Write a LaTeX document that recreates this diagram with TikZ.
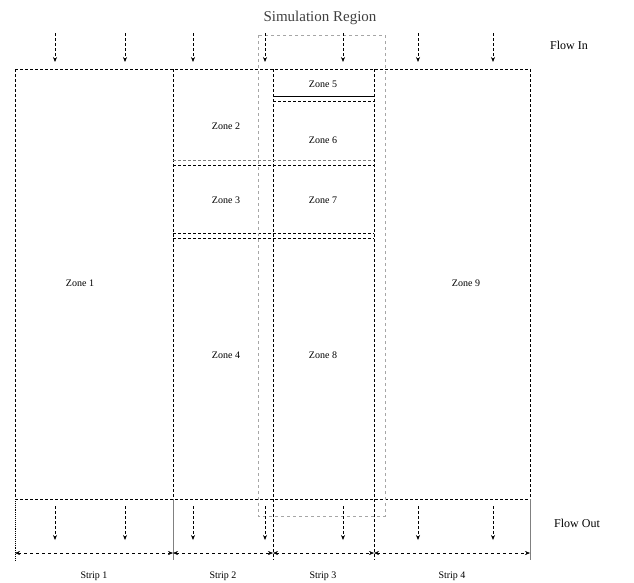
\documentclass[tikz,border=0pt]{standalone}
\usepackage{fontspec}
\setmainfont{Liberation Serif}
\usetikzlibrary{arrows.meta}
\tikzset{
  part/.style={densely dashed, line width=1pt},
  flow/.style={densely dashed, line width=0.8pt, -{Stealth[length=5pt,width=4pt]}},
  simreg/.style={dashed, gray!70, line width=0.5pt},
  span/.style={dashed, line width=0.4pt, {Stealth[length=5pt,width=4pt]}-{Stealth[length=5pt,width=4pt]}},
  zonelbl/.style={font=\fontsize{10}{11}\selectfont}
}
\begin{document}
\begin{tikzpicture}[x=1pt,y=-1pt]
    \useasboundingbox (0,0) rectangle (634,582);
    % strip borders
    \coordinate (T1) at (15,69);  \coordinate (B1) at (15,499);
    \coordinate (T2) at (173,69); \coordinate (B2) at (173,499);
    \coordinate (T3) at (273,69); \coordinate (B3) at (273,499);
    \coordinate (T4) at (374,69); \coordinate (B4) at (374,499);
    \coordinate (T5) at (530,69); \coordinate (B5) at (530,499);
    \draw[part] (T1)--(T5); \draw[part] (B1)--(B5);
    \draw[part] (T1)--(B1); \draw[part] (T2)--(B2);
    \draw[part] (T3)--(B3); \draw[part] (T4)--(B4);
    \draw[part] (T5)--(B5);
    % lower part of the borders
    \draw[densely dotted, line width=0.9pt] (B1)--(15,560);
    \draw[gray, line width=0.8pt] (B2)--(173,560);
    \draw[part] (B3)--(273,560);
    \draw[part] (B4)--(374,560);
    \draw[gray, line width=0.6pt] (B5)--(530,560);
    % zone boundaries
    \draw[line width=0.9pt] (273,96)--(374,96);
    \draw[part] (273,101)--(374,101);
    \draw[densely dashed, gray, line width=1pt] (173,160)--(374,160);
    \draw[part] (173,165)--(374,165);
    \draw[part] (173,233)--(374,233);
    \draw[part] (173,238)--(374,238);
    % simulation region
    \draw[simreg] (258,35) rectangle (385,516);
    \node[font=\fontsize{15}{17}\selectfont, text=black!75] (sim) at (320,18) {Simulation Region};
    % zones
    \node[zonelbl] (z1) at (80,283) {Zone 1};
    \node[zonelbl] (z2) at (226,126) {Zone 2};
    \node[zonelbl] (z3) at (226,200) {Zone 3};
    \node[zonelbl] (z4) at (226,355) {Zone 4};
    \node[zonelbl] (z5) at (323,84) {Zone 5};
    \node[zonelbl] (z6) at (323,140) {Zone 6};
    \node[zonelbl] (z7) at (323,200) {Zone 7};
    \node[zonelbl] (z8) at (323,355) {Zone 8};
    \node[zonelbl] (z9) at (466,283) {Zone 9};
    % flow arrows
    \foreach \x in {55,125,193,265,343,418,493} {
      \draw[flow] (\x,33)--(\x,62);
      \draw[flow] (\x,506)--(\x,540);
    }
    \node[font=\fontsize{12}{13}\selectfont] (fin) at (569,45) {Flow In};
    \node[font=\fontsize{12}{13}\selectfont] (fout) at (577,523) {Flow Out};
    % strip widths
    \draw[span] (15,553)--(173,553);  \node[zonelbl] (s1) at (94,576) {Strip 1};
    \draw[span] (173,553)--(273,553); \node[zonelbl] (s2) at (223,576) {Strip 2};
    \draw[span] (273,553)--(374,553); \node[zonelbl] (s3) at (323,576) {Strip 3};
    \draw[span] (374,553)--(530,553); \node[zonelbl] (s4) at (452,576) {Strip 4};
\end{tikzpicture}
\end{document}
